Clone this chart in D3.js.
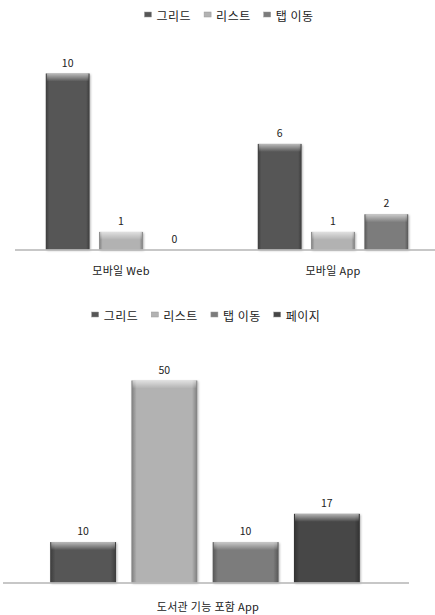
<!DOCTYPE html>
<html>
<head>
<meta charset="utf-8">
<script src="https://cdn.jsdelivr.net/npm/d3@7"></script>
<style>
  body { margin: 0; background: #fff; }
  svg { display: block; }
  text { font-family: "Noto Sans CJK KR", "Noto Sans", sans-serif; fill: #222; }
</style>
</head>
<body>
<svg id="chart" width="435" height="615"></svg>
<script>
// top chart data
const topCategories = ["모바일 Web", "모바일 App"];
const topSeries = ["그리드", "리스트", "탭 이동"];
const topValues = [
  [10, 1, 0],   // 모바일 Web
  [6, 1, 2]     // 모바일 App
];

// bottom chart data
const bottomCategories = ["도서관 기능 포함 App"];
const bottomSeries = ["그리드", "리스트", "탭 이동", "페이지"];
const bottomValues = [
  [10, 50, 10, 17]
];

const seriesColor = {
  "그리드": "#565656",
  "리스트": "#b2b2b2",
  "탭 이동": "#7b7b7b",
  "페이지": "#464646"
};

const svg = d3.select("#chart");
const defs = svg.append("defs");

// bevel look: top highlight + side shading
const vg = defs.append("linearGradient").attr("id", "topShine")
  .attr("x1", 0).attr("y1", 0).attr("x2", 0).attr("y2", 1);
vg.append("stop").attr("offset", "0").attr("stop-color", "#fff").attr("stop-opacity", 0.6);
vg.append("stop").attr("offset", "1").attr("stop-color", "#fff").attr("stop-opacity", 0);

const hg = defs.append("linearGradient").attr("id", "sideShade")
  .attr("x1", 0).attr("y1", 0).attr("x2", 1).attr("y2", 0);
hg.append("stop").attr("offset", "0").attr("stop-color", "#000").attr("stop-opacity", 0.3);
hg.append("stop").attr("offset", "0.08").attr("stop-color", "#000").attr("stop-opacity", 0);
hg.append("stop").attr("offset", "0.92").attr("stop-color", "#000").attr("stop-opacity", 0);
hg.append("stop").attr("offset", "1").attr("stop-color", "#000").attr("stop-opacity", 0.3);

const shadow = defs.append("filter").attr("id", "shadow")
  .attr("x", "-20%").attr("y", "-20%").attr("width", "140%").attr("height", "140%");
shadow.append("feDropShadow").attr("dx", 1).attr("dy", 1).attr("stdDeviation", 1)
  .attr("flood-color", "#000").attr("flood-opacity", 0.3);

function drawBar(g, x, y, w, h, color) {
  if (h <= 0) return;
  const b = g.append("g");
  b.append("rect").attr("x", x).attr("y", y).attr("width", w).attr("height", h)
    .attr("fill", color).attr("filter", "url(#shadow)");
  b.append("rect").attr("x", x).attr("y", y).attr("width", w).attr("height", h)
    .attr("fill", "url(#sideShade)");
  b.append("rect").attr("x", x + 1).attr("y", y).attr("width", w - 2).attr("height", Math.min(8, h))
    .attr("fill", "url(#topShine)");
}

function drawLegend(items, cx, cy) {
  const g = svg.append("g");
  let x = 0;
  items.forEach(name => {
    g.append("rect").attr("x", x).attr("y", cy - 9).attr("width", 7).attr("height", 5)
      .attr("fill", seriesColor[name]).attr("stroke", "#999").attr("stroke-width", 0.5);
    const t = g.append("text").attr("x", x + 12).attr("y", cy)
      .attr("font-size", 12).attr("letter-spacing", 0.5).text(name);
    x += 12 + t.node().getComputedTextLength() + 13;
  });
  const total = x - 13;
  g.attr("transform", `translate(${cx - total / 2},0)`);
}

function drawChart(cfg) {
  const x0 = d3.scaleBand().domain(cfg.categories).range(cfg.xRange);
  const x1 = d3.scaleBand().domain(cfg.series).range([0, cfg.innerWidth])
    .paddingInner(cfg.padInner).paddingOuter(cfg.padOuter);
  const y = d3.scaleLinear().domain([0, cfg.max]).range(cfg.yRange);

  const g = svg.append("g");

  cfg.categories.forEach((cat, i) => {
    const cx = x0(cat) + x0.bandwidth() / 2 + (cfg.shift || 0);
    const left = cx - cfg.innerWidth / 2;
    cfg.series.forEach((s, j) => {
      const v = cfg.values[i][j];
      const bx = left + x1(s);
      drawBar(g, bx, y(v), x1.bandwidth(), y(0) - y(v), seriesColor[s]);
      g.append("text").attr("x", bx + x1.bandwidth() / 2).attr("y", y(v) - 7)
        .attr("text-anchor", "middle").attr("font-size", 10.5).text(v);
    });
  });

  // baseline
  g.append("line")
    .attr("x1", cfg.xRange[0]).attr("x2", cfg.xRange[1])
    .attr("y1", y(0) + 0.5).attr("y2", y(0) + 0.5)
    .attr("stroke", "#b4b4b4").attr("stroke-width", 1.5);

  // category axis labels
  const axis = d3.axisBottom(x0).tickSize(0).tickPadding(0);
  const ag = g.append("g").attr("transform", `translate(0,${y(0) + cfg.labelOffset})`).call(axis);
  ag.select(".domain").remove();
  ag.selectAll("text").attr("font-size", 11)
    .attr("font-family", "'Noto Sans CJK KR', 'Noto Sans', sans-serif").attr("fill", "#222")
    .attr("letter-spacing", 0.3)
    .attr("dx", cfg.labelShift || 0);
}

drawLegend(topSeries, 229, 21);
drawChart({
  categories: topCategories, series: topSeries, values: topValues,
  xRange: [15, 439], innerWidth: 160, padInner: 0.18, padOuter: 0.09,
  max: 10, yRange: [249.5, 73.5], labelOffset: 18
});

drawLegend(bottomSeries, 206, 321);
drawChart({
  categories: bottomCategories, series: bottomSeries, values: bottomValues,
  xRange: [3, 409], innerWidth: 325, padInner: 0.19, padOuter: 0.095, shift: -1,
  max: 50, yRange: [582.5, 380.5], labelOffset: 21, labelShift: 2
});
</script>
</body>
</html>
